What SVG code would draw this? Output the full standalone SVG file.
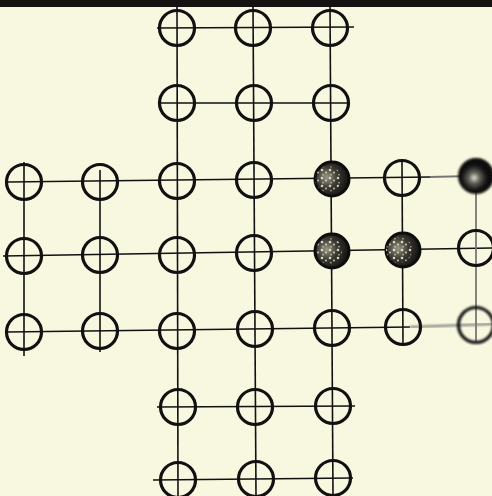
<svg xmlns="http://www.w3.org/2000/svg" width="492" height="496" viewBox="0 0 492 496">
<defs>
<style>
.ln{stroke:#111;stroke-width:1.6;fill:none;stroke-linecap:butt}
.lg{stroke:#777;stroke-width:1.8;fill:none}
.h{fill:none;stroke:#111;stroke-width:3.2}
.p{stroke:#0d0d0d;stroke-width:3}
</style>
<radialGradient id="peg" cx="0.35" cy="0.45" r="0.7">
<stop offset="0" stop-color="#9a9884"/>
<stop offset="0.45" stop-color="#3a3830"/>
<stop offset="1" stop-color="#0c0c0c"/>
</radialGradient>
<radialGradient id="peg2" cx="0.45" cy="0.55" r="0.55">
<stop offset="0" stop-color="#e8e6d4"/>
<stop offset="0.25" stop-color="#6a6860"/>
<stop offset="0.6" stop-color="#151515"/>
<stop offset="1" stop-color="#050505"/>
</radialGradient>
<pattern id="speck" width="8" height="8" patternUnits="userSpaceOnUse">
<circle cx="2" cy="2" r="1.3" fill="#f2f0dc"/>
<circle cx="6" cy="4.5" r="0.9" fill="#f2f0dc"/>
<circle cx="3" cy="6.8" r="0.8" fill="#f2f0dc"/>
</pattern>
<filter id="blur" x="-20%" y="-20%" width="140%" height="140%"><feGaussianBlur stdDeviation="1.1"/></filter>
</defs>
<rect width="492" height="496" fill="#f8f7e0"/>
<rect x="0" y="0" width="492" height="7" fill="#161212"/>
<g id="connectors">
<line class="ln" x1="157" y1="28" x2="354" y2="27"/>
<line class="ln" x1="158" y1="103" x2="350" y2="103"/>
<line class="ln" x1="8" y1="182" x2="430" y2="177"/>
<line class="lg" x1="430" y1="177" x2="492" y2="175.5"/>
<line class="ln" x1="3" y1="256" x2="492" y2="248"/>
<line class="ln" x1="7" y1="332" x2="410" y2="327"/>
<line class="lg" x1="410" y1="327" x2="492" y2="324" filter="url(#blur)"/>
<line class="ln" x1="157" y1="407" x2="355" y2="406"/>
<line class="ln" x1="153" y1="480" x2="353" y2="478"/>
<line class="ln" x1="177" y1="6" x2="178" y2="496"/>
<line class="ln" x1="253" y1="6" x2="256" y2="496"/>
<line class="ln" x1="330" y1="6" x2="333" y2="496"/>
<line class="ln" x1="24" y1="162" x2="24" y2="356"/>
<line class="ln" x1="100" y1="170" x2="100" y2="352"/>
<line class="ln" x1="402" y1="162" x2="403" y2="345"/>
<line class="lg" x1="476" y1="190" x2="476" y2="342"/>
</g>
<g id="r1c3"><circle class="h" cx="177" cy="28" r="17.5"/></g>
<g id="r1c4"><circle class="h" cx="253" cy="28" r="17.5"/></g>
<g id="r1c5"><circle class="h" cx="330" cy="28" r="17.5"/></g>
<g id="r2c3"><circle class="h" cx="177" cy="103" r="17.5"/></g>
<g id="r2c4"><circle class="h" cx="254" cy="103" r="17.5"/></g>
<g id="r2c5"><circle class="h" cx="331" cy="103" r="17.5"/></g>
<g id="r3c1"><circle class="h" cx="24" cy="182" r="17.5"/></g>
<g id="r3c2"><circle class="h" cx="100" cy="182" r="17.5"/></g>
<g id="r3c3"><circle class="h" cx="177" cy="181" r="17.5"/></g>
<g id="r3c4"><circle class="h" cx="254" cy="180" r="17.5"/></g>
<g id="r3c5"><circle class="p" cx="332" cy="179" r="17" fill="url(#peg)"/><circle cx="328" cy="179" r="13" fill="url(#speck)" opacity="0.8"/></g>
<g id="r3c6"><circle class="h" cx="402" cy="178" r="17.5"/></g>
<g id="r3c7"><circle cx="476" cy="176" r="18" fill="url(#peg2)" filter="url(#blur)"/></g>
<g id="r4c1"><circle class="h" cx="24" cy="256" r="17.5"/></g>
<g id="r4c2"><circle class="h" cx="100" cy="255" r="17.5"/></g>
<g id="r4c3"><circle class="h" cx="177" cy="255" r="17.5"/></g>
<g id="r4c4"><circle class="h" cx="254" cy="253" r="17.5"/></g>
<g id="r4c5"><circle class="p" cx="332" cy="251" r="17" fill="url(#peg)"/><circle cx="329" cy="251" r="13" fill="url(#speck)" opacity="0.85"/></g>
<g id="r4c6"><circle class="p" cx="403" cy="250" r="17" fill="url(#peg)"/><circle cx="399" cy="250" r="13" fill="url(#speck)" opacity="0.85"/></g>
<g id="r4c7"><circle class="h" cx="476" cy="248" r="17.5" stroke="#222"/></g>
<g id="r5c1"><circle class="h" cx="24" cy="332" r="17.5"/></g>
<g id="r5c2"><circle class="h" cx="100" cy="331" r="17.5"/></g>
<g id="r5c3"><circle class="h" cx="177" cy="331" r="17.5"/></g>
<g id="r5c4"><circle class="h" cx="255" cy="329" r="17.5"/></g>
<g id="r5c5"><circle class="h" cx="332" cy="328" r="17.5"/></g>
<g id="r5c6"><circle class="h" cx="403" cy="327" r="17.5"/></g>
<g id="r5c7"><circle class="h" cx="476" cy="325" r="17.5" stroke="#3a3a36" filter="url(#blur)"/></g>
<g id="r6c3"><circle class="h" cx="178" cy="407" r="17.5"/></g>
<g id="r6c4"><circle class="h" cx="255" cy="407" r="17.5"/></g>
<g id="r6c5"><circle class="h" cx="333" cy="406" r="17.5"/></g>
<g id="r7c3"><circle class="h" cx="178" cy="480" r="17.5"/></g>
<g id="r7c4"><circle class="h" cx="256" cy="479" r="17.5"/></g>
<g id="r7c5"><circle class="h" cx="333" cy="478" r="17.5"/></g>
</svg>
